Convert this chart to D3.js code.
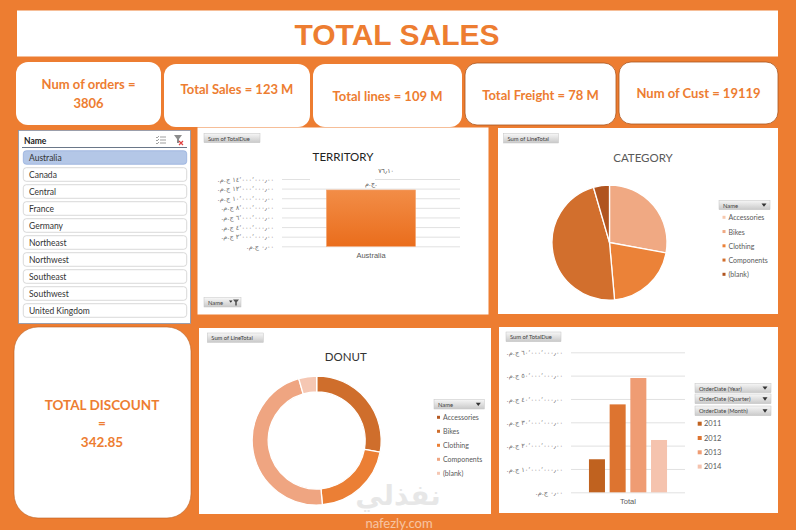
<!DOCTYPE html>
<html>
<head>
<meta charset="utf-8">
<script src="https://cdn.jsdelivr.net/npm/d3@7"></script>
<style>
  body{margin:0;background:#ED7D31;}
  svg{display:block;font-family:Lato,"Open Sans",sans-serif;}
</style>
</head>
<body>
<div id="vis-container"></div>
<script>
// values
let kpiNames = ["Num of orders", "Total Sales", "Total lines", "Total Freight", "Num of Cust"];
let kpiValues = ["3806", "123 M", "109 M", "78 M", "19119"];
let discountValue = "342.85";

let territories = ["Australia","Canada","Central","France","Germany","Northeast","Northwest","Southeast","Southwest","United Kingdom"];
let selectedTerritory = ["Australia"];
let territoryTotalDue = [11714376.10];
let territoryTicks = [0, 2e6, 4e6, 6e6, 8e6, 10e6, 12e6, 14e6];

let categories = ["Accessories","Bikes","Clothing","Components","(blank)"];
let categoryShare = [0, 27.9, 20.7, 46.9, 4.5];

let years = ["2011","2012","2013","2014"];
let yearTotalDue = [14.16e6, 37.68e6, 48.97e6, 22.42e6];
let yearTicks = [0, 1e7, 2e7, 3e7, 4e7, 5e7, 6e7];

let orange = "#ED7D31";
let pieColors = ["#F7C9AE","#F0A983","#EB8238","#D26F2D","#B0541F"];
let donutColors = ["#B55A23","#CF6E2C","#EB7F35","#EFA581","#F5C7B3"];
let yearColors = ["#C0621F","#DD7430","#EF9C73","#F5C3AE"];

// egyptian pound, arabic digits like the excel axis labels
let egp = d3.formatLocale({
  decimal: "\u066B", thousands: "\u066C", grouping: [3],
  currency: ["", " \u062C.\u0645.\u200F"],
  numerals: ["\u0660","\u0661","\u0662","\u0663","\u0664","\u0665","\u0666","\u0667","\u0668","\u0669"]
});
let money = egp.format("$,.2f");
let plain = egp.format(",.2f");

let svg = d3.select("#vis-container")
  .append("svg")
  .attr("width", 796)
  .attr("height", 530);

let defs = svg.append("defs");
let bg = defs.append("linearGradient").attr("id","btn").attr("x1",0).attr("y1",0).attr("x2",0).attr("y2",1);
bg.append("stop").attr("offset","0").attr("stop-color","#f7f7f7");
bg.append("stop").attr("offset","1").attr("stop-color","#c9c9c9");
let barG = defs.append("linearGradient").attr("id","barGrad").attr("x1",0).attr("y1",0).attr("x2",0).attr("y2",1);
barG.append("stop").attr("offset","0").attr("stop-color","#F28D47");
barG.append("stop").attr("offset","1").attr("stop-color","#EA6D1C");

svg.append("rect").attr("width",796).attr("height",530).attr("fill",orange);

//title
svg.append("rect").attr("x",17).attr("y",10.5).attr("width",761).attr("height",46).attr("fill","white");
svg.append("text")
  .attr("x",397).attr("y",34)
  .attr("text-anchor","middle").attr("dominant-baseline","central")
  .attr("font-family","'Liberation Sans Narrow','Arial Narrow',sans-serif")
  .attr("font-weight","bold").attr("font-size",30)
  .attr("fill",orange)
  .text("TOTAL SALES");

//kpi cards
let cardBoxes = [[16,62,145,63],[164,64,146,63],[313,64,149,63],[465,63,151,62],[619,62,159,62]];
let cardTextY = [84, 89, 96, 95, 93];
kpiNames.forEach((name,i)=>{
  let b = cardBoxes[i];
  svg.append("rect")
    .attr("x",b[0]).attr("y",b[1]).attr("width",b[2]).attr("height",b[3])
    .attr("rx",12).attr("fill","white")
    .attr("stroke", i>2 ? "#a9561e" : "none").attr("stroke-width",0.8);
  let cx = b[0]+b[2]/2;
  let t = svg.append("text")
    .attr("text-anchor","middle").attr("dominant-baseline","central")
    .attr("font-weight","bold").attr("font-size",13)
    .attr("fill",orange);
  if (i==0){
    t.append("tspan").attr("x",cx).attr("y",cardTextY[i]).text(`${name} =`);
    t.append("tspan").attr("x",cx).attr("y",cardTextY[i]+19).text(kpiValues[i]);
  } else {
    t.attr("x",cx).attr("y",cardTextY[i]).text(`${name} = ${kpiValues[i]}`);
  }
});

// grey pivot field button
function fieldButton(x, y, w, h, label, arrow){
  let g = svg.append("g");
  g.append("rect").attr("x",x).attr("y",y).attr("width",w).attr("height",h)
    .attr("fill","url(#btn)").attr("stroke","#c4c4c4").attr("stroke-width",0.5);
  g.append("text").attr("x",x+4).attr("y",y+h/2).attr("dominant-baseline","central")
    .attr("font-size",5.8).attr("fill","#404040").text(label);
  if (arrow){
    let ax = x+w-6, ay = y+h/2;
    g.append("path").attr("d",`M${ax-2.5},${ay-1.5}L${ax+2.5},${ay-1.5}L${ax},${ay+1.8}Z`).attr("fill","#333");
  }
  return g;
}

//slicer
svg.append("rect").attr("x",18.5).attr("y",130.5).attr("width",172).attr("height",193)
  .attr("fill","white").attr("stroke","#8497b0").attr("stroke-width",0.8);
svg.append("text").attr("x",24).attr("y",141).attr("dominant-baseline","central")
  .attr("font-size",8.5).attr("font-weight","bold").attr("fill","#222").text("Name");
svg.append("line").attr("x1",22).attr("x2",187).attr("y1",147.5).attr("y2",147.5)
  .attr("stroke","#44546a").attr("stroke-width",0.8);
// multi select icon
let ms = svg.append("g").attr("transform","translate(156,136)").attr("stroke","#777").attr("stroke-width",0.7);
[1,4,7].forEach(d=>{
  ms.append("line").attr("x1",4).attr("x2",10).attr("y1",d).attr("y2",d);
  ms.append("path").attr("d",`M0,${d}l1,1l2,-2`).attr("fill","none");
});
// clear filter icon
let cf = svg.append("g").attr("transform","translate(174,135)");
cf.append("path").attr("d","M0,0L8,0L5,4L5,8L3,8L3,4Z").attr("fill","#8c8c8c");
cf.append("path").attr("d","M5,6L9,10M9,6L5,10").attr("stroke","#e04040").attr("stroke-width",1.2);

let ySl = d3.scaleBand()
  .domain(territories)
  .range([150.7, 317.3])
  .paddingInner(0.2);
let items = svg.selectAll(".slicer-item")
  .data(territories)
  .enter().append("g").attr("class","slicer-item");
items.append("rect")
  .attr("x",23.3).attr("y",d=>ySl(d)).attr("width",163.4).attr("height",ySl.bandwidth())
  .attr("rx",3)
  .attr("fill",d=>selectedTerritory.includes(d) ? "#B4C7E7" : "white")
  .attr("stroke",d=>selectedTerritory.includes(d) ? "#8ea9db" : "#c8c8c8")
  .attr("stroke-width",0.7);
items.append("text")
  .attr("x",29).attr("y",d=>ySl(d)+ySl.bandwidth()/2)
  .attr("dominant-baseline","central").attr("font-size",8.5).attr("fill","#333")
  .text(d=>d);

//territory chart
svg.append("rect").attr("x",197.5).attr("y",127.5).attr("width",291).attr("height",187).attr("fill","white");
fieldButton(204,133.3,56,9.4,"Sum of TotalDue",false);
svg.append("text").attr("x",343).attr("y",156).attr("text-anchor","middle").attr("dominant-baseline","central")
  .attr("font-size",11.5).attr("fill","#222").text("TERRITORY");

let tW = 178, tH = 67.3;
let gT = svg.append("g").attr("transform","translate(282,179)");
let xT = d3.scaleBand().domain(selectedTerritory).range([0,tW]).paddingInner(0).paddingOuter(0.5);
let yT = d3.scaleLinear().domain([0,14e6]).range([tH,0]);

let axT = gT.append("g").attr("class","left axis")
  .call(d3.axisLeft(yT).tickValues(territoryTicks).tickSize(-tW).tickPadding(8).tickFormat(money));
axT.select(".domain").remove();
axT.selectAll("line").attr("stroke","#d9d9d9").attr("stroke-width",0.8);
axT.selectAll("text").attr("font-size",6.6).attr("fill","#6f6f6f").attr("font-family","'DejaVu Sans',sans-serif");

gT.selectAll(".bar")
  .data(territoryTotalDue)
  .enter().append("rect").attr("class","bar")
  .attr("x",(d,i)=>xT(selectedTerritory[i]))
  .attr("y",d=>yT(d))
  .attr("width",xT.bandwidth())
  .attr("height",d=>tH-yT(d))
  .attr("fill","url(#barGrad)")
  .attr("stroke","#f4a26c").attr("stroke-width",0.6);

// data label (excel wraps it, only the tail of the number shows)
territoryTotalDue.forEach((d,i)=>{
  let cx = xT(selectedTerritory[i]) + xT.bandwidth()/2;
  let top = yT(d);
  gT.append("rect").attr("x",cx-61).attr("y",top-14).attr("width",65).attr("height",7).attr("fill","white");
  gT.append("text").attr("x",cx+23).attr("y",top-17).attr("text-anchor","end")
    .attr("font-size",6.4).attr("fill","#595959").attr("font-family","'DejaVu Sans',sans-serif")
    .text(plain(d).slice(-5));
  gT.append("text").attr("x",cx).attr("y",top-4).attr("text-anchor","middle")
    .attr("font-size",6.4).attr("fill","#595959").attr("font-family","'DejaVu Sans',sans-serif")
    .text("\u062C.\u0645.");
});

gT.append("g").attr("transform",`translate(0,${tH})`)
  .call(d3.axisBottom(xT).tickSize(0).tickPadding(6))
  .call(g=>g.select(".domain").remove())
  .selectAll("text").attr("font-size",7.5).attr("fill","#595959");

let nb = fieldButton(204,297.7,37,9.3,"Name",false);
nb.append("path").attr("d","M229,300.5l3.5,0l-1.7,2.2Z").attr("fill","#333");
nb.append("path").attr("d","M233,299.5L239,299.5L236.8,302.3L236.8,305.5L235.2,305.5L235.2,302.3Z").attr("fill","#555");

//category pie
svg.append("rect").attr("x",498).attr("y",128).attr("width",280).attr("height",186).attr("fill","white");
fieldButton(503.5,133.5,55,9.5,"Sum of LineTotal",false);
svg.append("text").attr("x",643).attr("y",157).attr("text-anchor","middle").attr("dominant-baseline","central")
  .attr("font-size",11.5).attr("fill","#595959").text("CATEGORY");

let pie = d3.pie().sort(null).value(d=>d);
let pieArc = d3.arc().innerRadius(0).outerRadius(57.5);
let gP = svg.append("g").attr("transform","translate(609.5,242.5)");
gP.selectAll("path")
  .data(pie(categoryShare))
  .enter().append("path")
  .attr("d",pieArc)
  .attr("fill",(d,i)=>pieColors[i])
  .attr("stroke","white").attr("stroke-width",1.3);

function legend(x, y, step, names, colors, size){
  let lg = svg.append("g");
  names.forEach((n,i)=>{
    lg.append("rect").attr("x",x).attr("y",y+i*step-size/2).attr("width",size).attr("height",size).attr("fill",colors[i]);
    lg.append("text").attr("x",x+size+3).attr("y",y+i*step).attr("dominant-baseline","central")
      .attr("font-size",7).attr("fill","#595959").text(n);
  });
}
fieldButton(719,200.3,51,9.4,"Name",true);
legend(722.5,217.3,14.25,categories,pieColors,3);

//donut
svg.append("rect").attr("x",199).attr("y",328).attr("width",292).attr("height",186).attr("fill","white");
fieldButton(207.3,333,56,9.4,"Sum of LineTotal",false);
svg.append("text").attr("x",345.7).attr("y",356.7).attr("text-anchor","middle").attr("dominant-baseline","central")
  .attr("font-size",11.5).attr("fill","#333").text("DONUT");

let donutArc = d3.arc().innerRadius(48.5).outerRadius(64.5);
let gD = svg.append("g").attr("transform","translate(316.7,440.5)");
gD.selectAll("path")
  .data(pie(categoryShare))
  .enter().append("path")
  .attr("d",donutArc)
  .attr("fill",(d,i)=>donutColors[i])
  .attr("stroke","white").attr("stroke-width",1.3);
fieldButton(434,399.3,50.3,9.7,"Name",true);
legend(437,417.3,14,categories,donutColors,3);

//year bars
svg.append("rect").attr("x",499).attr("y",327).attr("width",279).attr("height",186).attr("fill","white");
fieldButton(506,332,55,9.7,"Sum of TotalDue",false);

let bW = 114, bH = 140;
let gB = svg.append("g").attr("transform","translate(571,352.3)");
let x0 = d3.scaleBand().domain(["Total"]).range([0,bW]).paddingInner(0).paddingOuter(0.23);
let x1 = d3.scaleBand().domain(years).range([0,x0.bandwidth()]).paddingInner(0.226).paddingOuter(0);
let yB = d3.scaleLinear().domain([0,6e7]).range([bH,0]);

let axB = gB.append("g").attr("class","left axis")
  .call(d3.axisLeft(yB).tickValues(yearTicks).tickSize(-bW).tickPadding(8).tickFormat(money));
axB.select(".domain").remove();
axB.selectAll("line").attr("stroke","#d9d9d9").attr("stroke-width",0.8);
axB.selectAll("text").attr("font-size",6.6).attr("fill","#6f6f6f").attr("font-family","'DejaVu Sans',sans-serif");

gB.selectAll(".bar")
  .data(yearTotalDue)
  .enter().append("rect").attr("class","bar")
  .attr("x",(d,i)=>x0("Total")+x1(years[i]))
  .attr("y",d=>yB(d))
  .attr("width",x1.bandwidth())
  .attr("height",d=>bH-yB(d))
  .attr("fill",(d,i)=>yearColors[i]);

gB.append("g").attr("transform",`translate(0,${bH})`)
  .call(d3.axisBottom(x0).tickSize(0).tickPadding(6))
  .call(g=>g.select(".domain").remove())
  .selectAll("text").attr("font-size",7.5).attr("fill","#595959");

fieldButton(695,383.3,76,9.4,"OrderDate (Year)",true);
fieldButton(695,394,76,9.7,"OrderDate (Quarter)",true);
fieldButton(695,406,76,9.7,"OrderDate (Month)",true);
let lgY = svg.append("g");
years.forEach((yr,i)=>{
  lgY.append("rect").attr("x",697.7).attr("y",423.7+i*14.3-2).attr("width",4).attr("height",4).attr("fill",yearColors[i]);
  lgY.append("text").attr("x",704).attr("y",423.7+i*14.3).attr("dominant-baseline","central")
    .attr("font-size",7.5).attr("fill","#595959").text(yr);
});

//total discount
svg.append("rect").attr("x",14).attr("y",327).attr("width",177).attr("height",191).attr("rx",24)
  .attr("fill","white").attr("stroke","#b95f22").attr("stroke-width",0.6);
let disc = svg.append("text").attr("text-anchor","middle").attr("font-weight","bold")
  .attr("font-size",13.5).attr("fill",orange);
disc.append("tspan").attr("x",102).attr("y",409.5).text("TOTAL DISCOUNT");
disc.append("tspan").attr("x",102).attr("y",428).text("=");
disc.append("tspan").attr("x",102).attr("y",447).text(discountValue);

//watermark
svg.append("text").attr("x",398).attr("y",505).attr("text-anchor","middle")
  .attr("font-family","'Noto Sans','DejaVu Sans',sans-serif").attr("font-weight","bold")
  .attr("font-size",28).attr("fill","#bdbdbd").attr("opacity",0.35).text("نفذلي");
svg.append("text").attr("x",399).attr("y",528).attr("text-anchor","middle")
  .attr("font-size",13).attr("fill","white").attr("opacity",0.55).text("nafezly.com");
</script>
</body>
</html>
